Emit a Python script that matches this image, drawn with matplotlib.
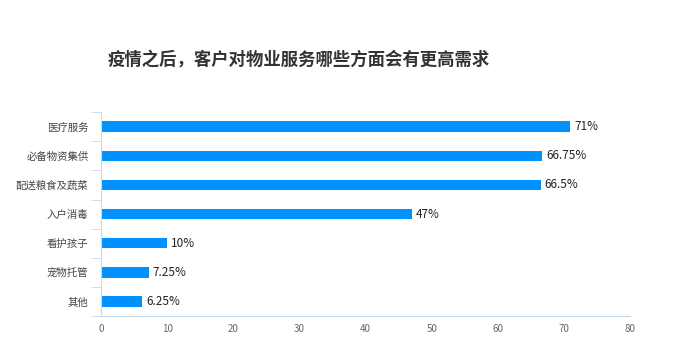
import matplotlib.pyplot as plt
from matplotlib.ticker import FixedLocator

plt.rcParams['font.family'] = ['Noto Sans CJK SC', 'DejaVu Sans']

categories = ['医疗服务', '必备物资集供', '配送粮食及蔬菜', '入户消毒', '看护孩子', '宠物托管', '其他']
values = [71, 66.75, 66.5, 47, 10, 7.25, 6.25]
value_labels = ['71%', '66.75%', '66.5%', '47%', '10%', '7.25%', '6.25%']
xticks = [0, 10, 20, 30, 40, 50, 60, 70, 80]

bar_color = '#0091FF'
axis_color = '#C9D8EA'

fig = plt.figure(figsize=(6.83, 3.45), dpi=100)
ax = fig.add_axes([0.1479, 0.084, 0.7745, 0.591])

pos = list(range(len(categories)))
ax.barh(pos, values, height=0.36, color=bar_color)
for p, v, lab in zip(pos, values, value_labels):
    ax.text(v + 0.6, p, lab, va='center', ha='left', fontsize=8.5, color='#222222')

ax.set_xlim(0, 80)
ax.set_ylim(6.5, -0.5)
ax.set_xticks(xticks)
ax.set_yticks(pos)
ax.set_yticklabels(categories)
ax.yaxis.set_minor_locator(FixedLocator([i - 0.5 for i in range(len(categories) + 1)]))

for s in ['top', 'right']:
    ax.spines[s].set_visible(False)
ax.spines['left'].set_color(axis_color)
ax.spines['bottom'].set_color(axis_color)

ax.tick_params(axis='y', which='major', length=0, pad=9, labelsize=7.5, labelcolor='#444444')
ax.tick_params(axis='y', which='minor', length=7, color=axis_color)
ax.tick_params(axis='x', length=0, pad=6, labelsize=7, labelcolor='#666666')

fig.text(0.158, 0.826, '疫情之后，客户对物业服务哪些方面会有更高需求',
         fontsize=12.5, fontweight='bold', color='#333333', va='center')

fig.savefig('out.png', dpi=100)
